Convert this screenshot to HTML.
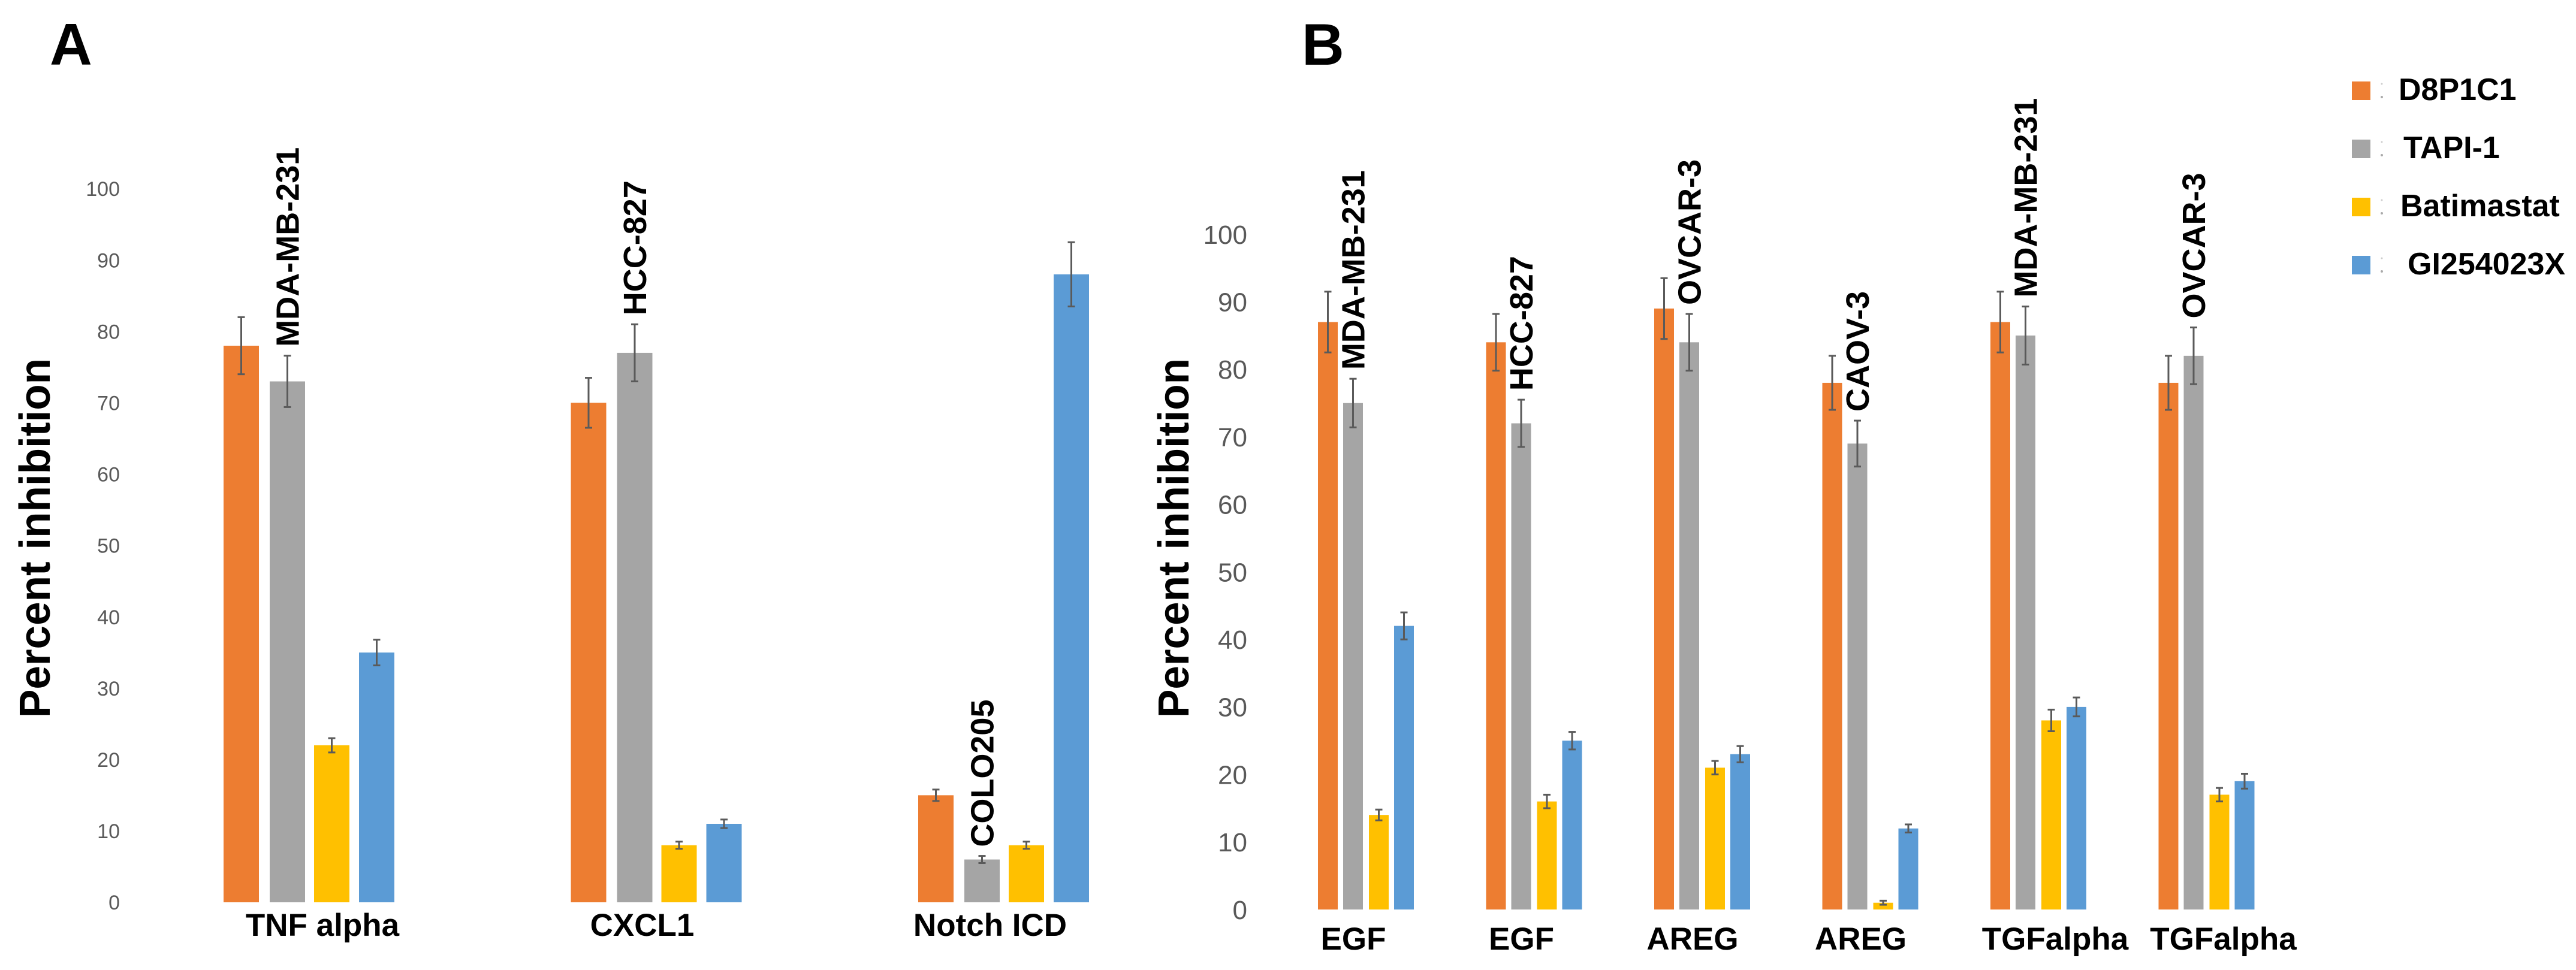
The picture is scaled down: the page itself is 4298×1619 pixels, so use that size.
<!DOCTYPE html>
<html><head><meta charset="utf-8"><style>
html,body{margin:0;padding:0;background:#fff}
svg{display:block;font-family:"Liberation Sans",Arial,sans-serif}
</style></head><body>
<svg id="fig" width="4298" height="1619" viewBox="0 0 4298 1619" xmlns="http://www.w3.org/2000/svg">
<rect width="4298" height="1619" fill="#fff"/>
<text x="83" y="108" font-size="98" font-weight="bold" fill="#000">A</text>
<text x="2172" y="108" font-size="98" font-weight="bold" fill="#000">B</text>
<text transform="translate(83,1198) rotate(-90)" font-size="72" font-weight="bold" fill="#000" textLength="600" lengthAdjust="spacingAndGlyphs">Percent inhibition</text>
<text transform="translate(1983,1198) rotate(-90)" font-size="72" font-weight="bold" fill="#000" textLength="600" lengthAdjust="spacingAndGlyphs">Percent inhibition</text>
<g id="legend"></g>
<g id="pa"></g>
<g id="pb"></g>
</svg>
<script>
const seriesNames = ["D8P1C1","TAPI-1","Batimastat","GI254023X"];
const seriesColors = ["#ED7D31","#A5A5A5","#FFC000","#5B9BD5"];
const yTicks = [0,10,20,30,40,50,60,70,80,90,100];

const aCategories = ["TNF alpha","CXCL1","Notch ICD"];
const aCellLines = ["MDA-MB-231","HCC-827","COLO205"];
const aD8P1C1 = [78,70,15];
const aTAPI1 = [73,77,6];
const aBatimastat = [22,8,8];
const aGI254023X = [35,11,88];
const aErrD8P1C1 = [4,3.5,0.8];
const aErrTAPI1 = [3.6,4,0.5];
const aErrBatimastat = [1,0.5,0.5];
const aErrGI254023X = [1.8,0.6,4.5];

const bCategories = ["EGF","EGF","AREG","AREG","TGFalpha","TGFalpha"];
const bCellLines = ["MDA-MB-231","HCC-827","OVCAR-3","CAOV-3","MDA-MB-231","OVCAR-3"];
const bD8P1C1 = [87,84,89,78,87,78];
const bTAPI1 = [75,72,84,69,85,82];
const bBatimastat = [14,16,21,1,28,17];
const bGI254023X = [42,25,23,12,30,19];
const bErrD8P1C1 = [4.5,4.2,4.5,4,4.5,4];
const bErrTAPI1 = [3.6,3.5,4.2,3.4,4.3,4.2];
const bErrBatimastat = [0.8,1,1,0.3,1.6,1];
const bErrGI254023X = [2,1.3,1.2,0.6,1.4,1.1];

const NS="http://www.w3.org/2000/svg";
function mk(tag, attrs, parent){const e=document.createElementNS(NS,tag);for(const k in attrs)e.setAttribute(k,attrs[k]);parent.appendChild(e);return e;}

function drawPanel(g, cfg){
  const y = v => cfg.y0 - (v/100)*(cfg.y0-cfg.y100);
  yTicks.forEach(t=>{
    const tx = mk('text',{x:cfg.tickX,y:y(t)+cfg.tickFont*0.36,'text-anchor':'end','font-size':cfg.tickFont,fill:'#595959'},g);
    
    
    tx.textContent=t;
  });
  const vals=[cfg.s0,cfg.s1,cfg.s2,cfg.s3], errs=[cfg.e0,cfg.e1,cfg.e2,cfg.e3];
  cfg.cats.forEach((c,i)=>{
    const gx = cfg.gStart + i*cfg.gStep;
    for(let s=0;s<4;s++){
      const v=vals[s][i], x=gx+cfg.offs[s];
      const r=mk('rect',{x:x,y:y(v),width:cfg.bw,height:y(0)-y(v),fill:seriesColors[s]},g);
      
      
      const cx=x+cfg.bw/2, e=errs[s][i];
      const eg=mk('g',{stroke:'#5a5a5a','stroke-width':3},g);
      
      
      mk('line',{x1:cx,x2:cx,y1:y(v+e),y2:y(v-e)},eg);
      mk('line',{x1:cx-6,x2:cx+6,y1:y(v+e),y2:y(v+e)},eg);
      mk('line',{x1:cx-6,x2:cx+6,y1:y(v-e),y2:y(v-e)},eg);
    }
    // cell line label over gray bar
    const gcx = gx+cfg.offs[1]+cfg.bw/2;
    const top = y(vals[1][i]+errs[1][i]) - 15;
    const cl=mk('text',{transform:`translate(${gcx+19},${top}) rotate(-90)`,'font-size':cfg.cellFont,'font-weight':'bold',fill:'#000'},g);
    
    
    cl.textContent=cfg.cells[i];
    const lb=mk('text',{x:gx+cfg.labelOff[i],y:cfg.labelY,'text-anchor':'middle','font-size':53,'font-weight':'bold',fill:'#000'},g);
    
    
    lb.textContent=c;
  });
}

drawPanel(document.getElementById('pa'),{
  y0:1506,y100:315,tickX:200,tickFont:34,cats:aCategories,cells:aCellLines,
  s0:aD8P1C1,s1:aTAPI1,s2:aBatimastat,s3:aGI254023X,e0:aErrD8P1C1,e1:aErrTAPI1,e2:aErrBatimastat,e3:aErrGI254023X,
  gStart:373,gStep:579.5,offs:[0,77,151,226],bw:59,cellFont:54,labelY:1562,labelOff:[165,119,120]
});
drawPanel(document.getElementById('pb'),{
  y0:1518,y100:391,tickX:2081,tickFont:44,cats:bCategories,cells:bCellLines,
  s0:bD8P1C1,s1:bTAPI1,s2:bBatimastat,s3:bGI254023X,e0:bErrD8P1C1,e1:bErrTAPI1,e2:bErrBatimastat,e3:bErrGI254023X,
  gStart:2199,gStep:280.5,offs:[0,42,85,127],bw:33,cellFont:54,labelY:1585,labelOff:[59,59,64,64,108,108]
});

const lg=document.getElementById('legend');
const lgX=[4002,4010,4005,4017];
seriesNames.forEach((n,i)=>{
  const yy=136+i*97;
  const sq=mk('rect',{x:3924,y:yy,width:31,height:31,fill:seriesColors[i]},lg);
  
  
  mk('circle',{cx:3974,cy:yy+4,r:1.5,fill:'#ccc'},lg);
  mk('circle',{cx:3974,cy:yy+26,r:2,fill:'#aaa'},lg);
  const t=mk('text',{x:lgX[i],y:yy+31,'font-size':52,'font-weight':'bold',fill:'#000'},lg);
  
  
  t.textContent=n;
});
</script>
</body></html>
